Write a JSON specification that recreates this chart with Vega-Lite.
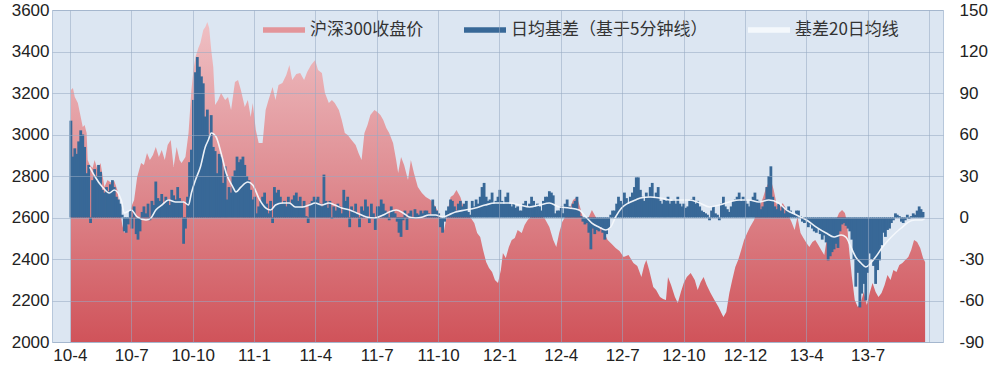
{
"$schema":"https://vega.github.io/schema/vega-lite/v6.json",
"width":891,"height":332,
"autosize":"none",
"padding":{"left":52,"top":10,"right":56,"bottom":33},
"background":"#ffffff",
"config":{"view":{"fill":"#dce6f2","stroke":"#b7c7db","strokeWidth":1},"font":"Liberation Sans"},
"datasets":{
"index":[{"m":0.05,"close":3214},{"m":0.15,"close":3224},{"m":0.24,"close":3181},{"m":0.39,"close":3152},{"m":0.48,"close":3108},{"m":0.63,"close":3036},{"m":0.72,"close":3046},{"m":0.82,"close":3007},{"m":0.87,"close":2877},{"m":0.97,"close":2853},{"m":1.11,"close":2839},{"m":1.21,"close":2877},{"m":1.35,"close":2829},{"m":1.5,"close":2863},{"m":1.69,"close":2747},{"m":1.84,"close":2781},{"m":2.03,"close":2766},{"m":2.17,"close":2776},{"m":2.32,"close":2733},{"m":2.42,"close":2660},{"m":2.56,"close":2564},{"m":2.66,"close":2525},{"m":2.8,"close":2559},{"m":2.95,"close":2612},{"m":3.04,"close":2660},{"m":3.14,"close":2684},{"m":3.29,"close":2795},{"m":3.48,"close":2863},{"m":3.62,"close":2853},{"m":3.77,"close":2911},{"m":3.91,"close":2877},{"m":4.06,"close":2901},{"m":4.2,"close":2940},{"m":4.35,"close":2892},{"m":4.49,"close":2925},{"m":4.64,"close":2877},{"m":4.78,"close":2949},{"m":4.93,"close":2973},{"m":5.07,"close":2843},{"m":5.22,"close":2940},{"m":5.36,"close":2877},{"m":5.46,"close":2863},{"m":5.65,"close":2892},{"m":5.8,"close":3007},{"m":5.94,"close":3214},{"m":6.04,"close":3311},{"m":6.14,"close":3374},{"m":6.28,"close":3417},{"m":6.38,"close":3441},{"m":6.52,"close":3504},{"m":6.62,"close":3518},{"m":6.72,"close":3542},{"m":6.81,"close":3513},{"m":6.91,"close":3407},{"m":7.01,"close":3325},{"m":7.1,"close":3142},{"m":7.25,"close":3166},{"m":7.39,"close":3200},{"m":7.59,"close":3166},{"m":7.73,"close":3181},{"m":7.88,"close":3118},{"m":8.07,"close":3253},{"m":8.22,"close":3263},{"m":8.36,"close":3214},{"m":8.55,"close":3133},{"m":8.7,"close":3166},{"m":8.84,"close":3084},{"m":8.94,"close":3152},{"m":9.09,"close":3022},{"m":9.23,"close":2959},{"m":9.42,"close":2959},{"m":9.57,"close":3118},{"m":9.71,"close":3166},{"m":9.91,"close":3229},{"m":10.05,"close":3166},{"m":10.2,"close":3239},{"m":10.39,"close":3248},{"m":10.58,"close":3287},{"m":10.73,"close":3335},{"m":10.87,"close":3263},{"m":11.07,"close":3292},{"m":11.26,"close":3296},{"m":11.45,"close":3263},{"m":11.6,"close":3301},{"m":11.79,"close":3335},{"m":11.99,"close":3359},{"m":12.13,"close":3311},{"m":12.32,"close":3296},{"m":12.47,"close":3200},{"m":12.66,"close":3152},{"m":12.81,"close":3166},{"m":12.95,"close":3152},{"m":13.15,"close":3118},{"m":13.29,"close":3070},{"m":13.44,"close":3007},{"m":13.58,"close":2998},{"m":13.77,"close":2973},{"m":13.97,"close":2949},{"m":14.11,"close":2911},{"m":14.26,"close":2877},{"m":14.4,"close":3007},{"m":14.55,"close":3046},{"m":14.69,"close":3094},{"m":14.89,"close":3118},{"m":15.03,"close":3108},{"m":15.18,"close":3094},{"m":15.32,"close":3070},{"m":15.47,"close":3031},{"m":15.61,"close":3007},{"m":15.8,"close":2959},{"m":15.95,"close":2877},{"m":16.05,"close":2815},{"m":16.19,"close":2892},{"m":16.34,"close":2853},{"m":16.53,"close":2781},{"m":16.67,"close":2877},{"m":16.82,"close":2815},{"m":17.01,"close":2747},{"m":17.21,"close":2718},{"m":17.4,"close":2699},{"m":17.64,"close":2684},{"m":17.88,"close":2651},{"m":18.12,"close":2602},{"m":18.27,"close":2525},{"m":18.46,"close":2627},{"m":18.61,"close":2699},{"m":18.75,"close":2708},{"m":18.9,"close":2733},{"m":19.09,"close":2699},{"m":19.24,"close":2651},{"m":19.43,"close":2627},{"m":19.57,"close":2602},{"m":19.77,"close":2574},{"m":19.91,"close":2525},{"m":20.06,"close":2506},{"m":20.2,"close":2443},{"m":20.35,"close":2386},{"m":20.49,"close":2357},{"m":20.64,"close":2337},{"m":20.78,"close":2299},{"m":20.93,"close":2284},{"m":21.07,"close":2347},{"m":21.17,"close":2429},{"m":21.31,"close":2405},{"m":21.46,"close":2458},{"m":21.6,"close":2492},{"m":21.75,"close":2501},{"m":21.89,"close":2540},{"m":22.09,"close":2525},{"m":22.23,"close":2564},{"m":22.38,"close":2588},{"m":22.52,"close":2602},{"m":22.72,"close":2622},{"m":22.96,"close":2612},{"m":23.2,"close":2597},{"m":23.44,"close":2554},{"m":23.63,"close":2492},{"m":23.78,"close":2458},{"m":23.92,"close":2525},{"m":24.07,"close":2578},{"m":24.21,"close":2602},{"m":24.41,"close":2636},{"m":24.6,"close":2684},{"m":24.79,"close":2699},{"m":24.94,"close":2651},{"m":25.08,"close":2597},{"m":25.23,"close":2588},{"m":25.37,"close":2602},{"m":25.52,"close":2636},{"m":25.71,"close":2602},{"m":25.91,"close":2564},{"m":26.1,"close":2530},{"m":26.29,"close":2492},{"m":26.49,"close":2472},{"m":26.68,"close":2453},{"m":26.87,"close":2439},{"m":27.07,"close":2410},{"m":27.31,"close":2419},{"m":27.55,"close":2381},{"m":27.74,"close":2366},{"m":27.94,"close":2313},{"m":28.08,"close":2371},{"m":28.18,"close":2395},{"m":28.32,"close":2347},{"m":28.52,"close":2265},{"m":28.66,"close":2251},{"m":28.85,"close":2217},{"m":29.0,"close":2207},{"m":29.14,"close":2202},{"m":29.24,"close":2313},{"m":29.39,"close":2275},{"m":29.58,"close":2217},{"m":29.72,"close":2188},{"m":29.87,"close":2241},{"m":30.01,"close":2284},{"m":30.16,"close":2313},{"m":30.35,"close":2333},{"m":30.55,"close":2299},{"m":30.69,"close":2251},{"m":30.84,"close":2289},{"m":30.98,"close":2313},{"m":31.13,"close":2275},{"m":31.32,"close":2236},{"m":31.51,"close":2202},{"m":31.71,"close":2169},{"m":31.85,"close":2140},{"m":31.95,"close":2121},{"m":32.09,"close":2145},{"m":32.24,"close":2236},{"m":32.38,"close":2299},{"m":32.53,"close":2361},{"m":32.67,"close":2395},{"m":32.82,"close":2443},{"m":32.96,"close":2492},{"m":33.11,"close":2525},{"m":33.25,"close":2554},{"m":33.45,"close":2588},{"m":33.59,"close":2636},{"m":33.74,"close":2660},{"m":33.88,"close":2694},{"m":34.03,"close":2742},{"m":34.17,"close":2771},{"m":34.27,"close":2781},{"m":34.41,"close":2733},{"m":34.56,"close":2660},{"m":34.7,"close":2646},{"m":34.85,"close":2670},{"m":34.99,"close":2646},{"m":35.14,"close":2607},{"m":35.28,"close":2578},{"m":35.43,"close":2540},{"m":35.57,"close":2602},{"m":35.72,"close":2525},{"m":35.86,"close":2501},{"m":36.01,"close":2477},{"m":36.15,"close":2458},{"m":36.3,"close":2482},{"m":36.44,"close":2492},{"m":36.59,"close":2467},{"m":36.73,"close":2443},{"m":36.88,"close":2419},{"m":37.02,"close":2506},{"m":37.17,"close":2540},{"m":37.31,"close":2530},{"m":37.46,"close":2588},{"m":37.6,"close":2622},{"m":37.75,"close":2636},{"m":37.89,"close":2622},{"m":37.99,"close":2578},{"m":38.08,"close":2458},{"m":38.23,"close":2313},{"m":38.37,"close":2202},{"m":38.52,"close":2169},{"m":38.66,"close":2188},{"m":38.81,"close":2241},{"m":38.96,"close":2178},{"m":39.1,"close":2236},{"m":39.24,"close":2284},{"m":39.39,"close":2241},{"m":39.53,"close":2217},{"m":39.68,"close":2236},{"m":39.83,"close":2275},{"m":39.97,"close":2323},{"m":40.12,"close":2299},{"m":40.26,"close":2347},{"m":40.41,"close":2337},{"m":40.55,"close":2371},{"m":40.7,"close":2381},{"m":40.84,"close":2395},{"m":40.99,"close":2410},{"m":41.13,"close":2443},{"m":41.27,"close":2492},{"m":41.42,"close":2482},{"m":41.57,"close":2453},{"m":41.71,"close":2405},{"m":41.81,"close":2386}],
"basis":[{"m":0.05,"basis":70},{"m":0.15,"basis":44},{"m":0.24,"basis":50},{"m":0.34,"basis":46},{"m":0.43,"basis":55},{"m":0.53,"basis":63},{"m":0.63,"basis":60},{"m":0.72,"basis":51},{"m":0.82,"basis":32},{"m":0.92,"basis":38},{"m":1.01,"basis":-4},{"m":1.11,"basis":27},{"m":1.21,"basis":35},{"m":1.3,"basis":30},{"m":1.4,"basis":38},{"m":1.5,"basis":33},{"m":1.59,"basis":20},{"m":1.69,"basis":18},{"m":1.79,"basis":22},{"m":1.88,"basis":19},{"m":1.98,"basis":24},{"m":2.08,"basis":27},{"m":2.17,"basis":22},{"m":2.27,"basis":15},{"m":2.37,"basis":13},{"m":2.46,"basis":10},{"m":2.56,"basis":2},{"m":2.66,"basis":-10},{"m":2.75,"basis":-11},{"m":2.85,"basis":-5},{"m":2.95,"basis":5},{"m":3.04,"basis":-8},{"m":3.14,"basis":8},{"m":3.24,"basis":-12},{"m":3.33,"basis":-16},{"m":3.43,"basis":-10},{"m":3.53,"basis":4},{"m":3.62,"basis":8},{"m":3.72,"basis":3},{"m":3.82,"basis":10},{"m":3.91,"basis":-2},{"m":4.01,"basis":12},{"m":4.11,"basis":9},{"m":4.2,"basis":26},{"m":4.3,"basis":14},{"m":4.4,"basis":12},{"m":4.49,"basis":17},{"m":4.59,"basis":10},{"m":4.69,"basis":15},{"m":4.78,"basis":13},{"m":4.88,"basis":9},{"m":4.98,"basis":20},{"m":5.07,"basis":16},{"m":5.17,"basis":13},{"m":5.27,"basis":22},{"m":5.36,"basis":14},{"m":5.46,"basis":12},{"m":5.56,"basis":-19},{"m":5.65,"basis":-8},{"m":5.75,"basis":15},{"m":5.85,"basis":40},{"m":5.94,"basis":49},{"m":6.04,"basis":85},{"m":6.14,"basis":105},{"m":6.23,"basis":116},{"m":6.33,"basis":109},{"m":6.43,"basis":102},{"m":6.52,"basis":97},{"m":6.62,"basis":73},{"m":6.72,"basis":78},{"m":6.81,"basis":60},{"m":6.91,"basis":74},{"m":7.01,"basis":51},{"m":7.1,"basis":48},{"m":7.2,"basis":32},{"m":7.3,"basis":46},{"m":7.39,"basis":44},{"m":7.49,"basis":25},{"m":7.59,"basis":37},{"m":7.68,"basis":13},{"m":7.78,"basis":22},{"m":7.88,"basis":18},{"m":7.97,"basis":30},{"m":8.07,"basis":34},{"m":8.17,"basis":44},{"m":8.26,"basis":40},{"m":8.36,"basis":42},{"m":8.46,"basis":44},{"m":8.55,"basis":38},{"m":8.65,"basis":30},{"m":8.75,"basis":27},{"m":8.84,"basis":20},{"m":8.94,"basis":13},{"m":9.04,"basis":15},{"m":9.13,"basis":3},{"m":9.23,"basis":8},{"m":9.33,"basis":12},{"m":9.42,"basis":15},{"m":9.52,"basis":18},{"m":9.62,"basis":10},{"m":9.71,"basis":3},{"m":9.81,"basis":12},{"m":9.91,"basis":-4},{"m":10.0,"basis":22},{"m":10.1,"basis":18},{"m":10.2,"basis":20},{"m":10.29,"basis":15},{"m":10.39,"basis":10},{"m":10.49,"basis":12},{"m":10.58,"basis":8},{"m":10.68,"basis":15},{"m":10.78,"basis":10},{"m":10.87,"basis":13},{"m":10.97,"basis":16},{"m":11.07,"basis":18},{"m":11.16,"basis":12},{"m":11.26,"basis":15},{"m":11.36,"basis":7},{"m":11.45,"basis":12},{"m":11.55,"basis":1},{"m":11.65,"basis":-4},{"m":11.74,"basis":10},{"m":11.84,"basis":12},{"m":11.94,"basis":15},{"m":12.03,"basis":13},{"m":12.13,"basis":15},{"m":12.23,"basis":10},{"m":12.32,"basis":8},{"m":12.42,"basis":31},{"m":12.52,"basis":12},{"m":12.61,"basis":7},{"m":12.71,"basis":12},{"m":12.81,"basis":-1},{"m":12.9,"basis":8},{"m":13.0,"basis":5},{"m":13.1,"basis":10},{"m":13.19,"basis":8},{"m":13.29,"basis":3},{"m":13.39,"basis":20},{"m":13.48,"basis":12},{"m":13.58,"basis":15},{"m":13.68,"basis":-7},{"m":13.77,"basis":8},{"m":13.87,"basis":5},{"m":13.97,"basis":10},{"m":14.06,"basis":3},{"m":14.16,"basis":-7},{"m":14.26,"basis":8},{"m":14.35,"basis":5},{"m":14.45,"basis":13},{"m":14.55,"basis":8},{"m":14.64,"basis":-4},{"m":14.74,"basis":10},{"m":14.84,"basis":3},{"m":14.93,"basis":-9},{"m":15.03,"basis":8},{"m":15.13,"basis":8},{"m":15.22,"basis":13},{"m":15.32,"basis":10},{"m":15.42,"basis":5},{"m":15.51,"basis":3},{"m":15.61,"basis":-2},{"m":15.71,"basis":8},{"m":15.8,"basis":5},{"m":15.9,"basis":3},{"m":16.0,"basis":-3},{"m":16.09,"basis":-11},{"m":16.19,"basis":-14},{"m":16.29,"basis":-2},{"m":16.38,"basis":5},{"m":16.48,"basis":-9},{"m":16.58,"basis":3},{"m":16.67,"basis":5},{"m":16.77,"basis":-1},{"m":16.87,"basis":6},{"m":16.96,"basis":3},{"m":17.06,"basis":2},{"m":17.16,"basis":5},{"m":17.25,"basis":3},{"m":17.35,"basis":5},{"m":17.45,"basis":5},{"m":17.54,"basis":3},{"m":17.64,"basis":2},{"m":17.74,"basis":13},{"m":17.83,"basis":8},{"m":17.93,"basis":5},{"m":18.03,"basis":3},{"m":18.12,"basis":-7},{"m":18.22,"basis":-11},{"m":18.32,"basis":-3},{"m":18.41,"basis":5},{"m":18.51,"basis":8},{"m":18.61,"basis":13},{"m":18.7,"basis":12},{"m":18.8,"basis":8},{"m":18.9,"basis":5},{"m":18.99,"basis":10},{"m":19.09,"basis":12},{"m":19.19,"basis":8},{"m":19.28,"basis":10},{"m":19.38,"basis":12},{"m":19.48,"basis":4},{"m":19.57,"basis":2},{"m":19.67,"basis":12},{"m":19.77,"basis":8},{"m":19.86,"basis":13},{"m":19.96,"basis":10},{"m":20.06,"basis":15},{"m":20.15,"basis":22},{"m":20.25,"basis":25},{"m":20.35,"basis":15},{"m":20.44,"basis":12},{"m":20.54,"basis":13},{"m":20.64,"basis":18},{"m":20.73,"basis":10},{"m":20.83,"basis":12},{"m":20.93,"basis":15},{"m":21.02,"basis":20},{"m":21.12,"basis":12},{"m":21.22,"basis":10},{"m":21.31,"basis":15},{"m":21.41,"basis":18},{"m":21.51,"basis":10},{"m":21.6,"basis":8},{"m":21.7,"basis":10},{"m":21.8,"basis":7},{"m":21.89,"basis":8},{"m":21.99,"basis":5},{"m":22.09,"basis":5},{"m":22.18,"basis":10},{"m":22.28,"basis":12},{"m":22.38,"basis":8},{"m":22.47,"basis":10},{"m":22.57,"basis":15},{"m":22.67,"basis":12},{"m":22.76,"basis":8},{"m":22.86,"basis":10},{"m":22.96,"basis":8},{"m":23.05,"basis":5},{"m":23.15,"basis":12},{"m":23.25,"basis":15},{"m":23.34,"basis":15},{"m":23.44,"basis":19},{"m":23.54,"basis":18},{"m":23.63,"basis":16},{"m":23.73,"basis":3},{"m":23.83,"basis":5},{"m":23.92,"basis":5},{"m":24.02,"basis":8},{"m":24.12,"basis":3},{"m":24.21,"basis":10},{"m":24.31,"basis":13},{"m":24.41,"basis":8},{"m":24.5,"basis":6},{"m":24.6,"basis":10},{"m":24.7,"basis":12},{"m":24.79,"basis":15},{"m":24.89,"basis":5},{"m":24.99,"basis":1},{"m":25.08,"basis":-3},{"m":25.18,"basis":-5},{"m":25.28,"basis":-4},{"m":25.37,"basis":-11},{"m":25.47,"basis":-23},{"m":25.57,"basis":-8},{"m":25.66,"basis":-12},{"m":25.76,"basis":-9},{"m":25.86,"basis":-10},{"m":25.95,"basis":-7},{"m":26.05,"basis":-11},{"m":26.15,"basis":-16},{"m":26.24,"basis":-12},{"m":26.34,"basis":-8},{"m":26.44,"basis":2},{"m":26.53,"basis":5},{"m":26.63,"basis":5},{"m":26.73,"basis":10},{"m":26.82,"basis":15},{"m":26.92,"basis":12},{"m":27.02,"basis":10},{"m":27.11,"basis":18},{"m":27.21,"basis":14},{"m":27.31,"basis":10},{"m":27.4,"basis":15},{"m":27.5,"basis":18},{"m":27.6,"basis":22},{"m":27.69,"basis":29},{"m":27.79,"basis":29},{"m":27.89,"basis":20},{"m":27.98,"basis":15},{"m":28.08,"basis":12},{"m":28.18,"basis":18},{"m":28.27,"basis":15},{"m":28.37,"basis":22},{"m":28.47,"basis":25},{"m":28.56,"basis":14},{"m":28.66,"basis":18},{"m":28.76,"basis":22},{"m":28.85,"basis":12},{"m":28.95,"basis":10},{"m":29.05,"basis":13},{"m":29.14,"basis":12},{"m":29.24,"basis":15},{"m":29.34,"basis":10},{"m":29.43,"basis":12},{"m":29.53,"basis":13},{"m":29.63,"basis":10},{"m":29.72,"basis":15},{"m":29.82,"basis":10},{"m":29.92,"basis":8},{"m":30.01,"basis":10},{"m":30.11,"basis":7},{"m":30.21,"basis":8},{"m":30.3,"basis":12},{"m":30.4,"basis":13},{"m":30.5,"basis":15},{"m":30.59,"basis":10},{"m":30.69,"basis":12},{"m":30.79,"basis":8},{"m":30.88,"basis":5},{"m":30.98,"basis":4},{"m":31.08,"basis":3},{"m":31.17,"basis":2},{"m":31.27,"basis":-2},{"m":31.37,"basis":5},{"m":31.46,"basis":8},{"m":31.56,"basis":3},{"m":31.66,"basis":2},{"m":31.75,"basis":-2},{"m":31.85,"basis":10},{"m":31.95,"basis":15},{"m":32.04,"basis":8},{"m":32.14,"basis":6},{"m":32.24,"basis":4},{"m":32.33,"basis":8},{"m":32.43,"basis":12},{"m":32.53,"basis":13},{"m":32.62,"basis":15},{"m":32.72,"basis":18},{"m":32.82,"basis":12},{"m":32.91,"basis":15},{"m":33.01,"basis":13},{"m":33.11,"basis":10},{"m":33.2,"basis":8},{"m":33.3,"basis":12},{"m":33.4,"basis":15},{"m":33.49,"basis":18},{"m":33.59,"basis":13},{"m":33.69,"basis":12},{"m":33.78,"basis":6},{"m":33.88,"basis":8},{"m":33.98,"basis":13},{"m":34.07,"basis":22},{"m":34.17,"basis":30},{"m":34.27,"basis":37},{"m":34.36,"basis":15},{"m":34.46,"basis":8},{"m":34.56,"basis":6},{"m":34.65,"basis":10},{"m":34.75,"basis":5},{"m":34.85,"basis":8},{"m":34.94,"basis":3},{"m":35.04,"basis":6},{"m":35.14,"basis":8},{"m":35.23,"basis":5},{"m":35.33,"basis":3},{"m":35.43,"basis":2},{"m":35.52,"basis":5},{"m":35.62,"basis":5},{"m":35.72,"basis":1},{"m":35.81,"basis":-3},{"m":35.91,"basis":-4},{"m":36.01,"basis":-2},{"m":36.1,"basis":-7},{"m":36.2,"basis":-5},{"m":36.3,"basis":-8},{"m":36.39,"basis":-10},{"m":36.49,"basis":-11},{"m":36.59,"basis":-8},{"m":36.68,"basis":-12},{"m":36.78,"basis":-16},{"m":36.88,"basis":-13},{"m":36.97,"basis":-18},{"m":37.07,"basis":-31},{"m":37.17,"basis":-28},{"m":37.26,"basis":-25},{"m":37.36,"basis":-23},{"m":37.46,"basis":-19},{"m":37.55,"basis":-22},{"m":37.65,"basis":-10},{"m":37.75,"basis":-5},{"m":37.84,"basis":-4},{"m":37.94,"basis":-6},{"m":38.04,"basis":-8},{"m":38.13,"basis":-10},{"m":38.23,"basis":-16},{"m":38.33,"basis":-30},{"m":38.42,"basis":-50},{"m":38.52,"basis":-40},{"m":38.62,"basis":-65},{"m":38.71,"basis":-55},{"m":38.81,"basis":-48},{"m":38.91,"basis":-60},{"m":39.0,"basis":-40},{"m":39.1,"basis":-26},{"m":39.2,"basis":-30},{"m":39.29,"basis":-35},{"m":39.39,"basis":-48},{"m":39.49,"basis":-38},{"m":39.58,"basis":-31},{"m":39.68,"basis":-20},{"m":39.78,"basis":-11},{"m":39.87,"basis":-14},{"m":39.97,"basis":-9},{"m":40.07,"basis":-8},{"m":40.16,"basis":-4},{"m":40.26,"basis":-2},{"m":40.36,"basis":3},{"m":40.45,"basis":2},{"m":40.55,"basis":1},{"m":40.65,"basis":-3},{"m":40.74,"basis":-4},{"m":40.84,"basis":-2},{"m":40.94,"basis":2},{"m":41.03,"basis":-1},{"m":41.13,"basis":1},{"m":41.23,"basis":3},{"m":41.32,"basis":2},{"m":41.42,"basis":5},{"m":41.52,"basis":8},{"m":41.61,"basis":6},{"m":41.71,"basis":4}],
"ma":[{"m":0.97,"ma":36.5},{"m":1.21,"ma":30},{"m":1.59,"ma":22},{"m":1.93,"ma":17.7},{"m":2.17,"ma":19.9},{"m":2.51,"ma":12.7},{"m":2.66,"ma":3.3},{"m":3.0,"ma":5.4},{"m":3.29,"ma":0.4},{"m":3.72,"ma":-1.8},{"m":3.96,"ma":-0.4},{"m":4.2,"ma":5.4},{"m":4.49,"ma":9.0},{"m":4.83,"ma":12.7},{"m":5.17,"ma":11.2},{"m":5.56,"ma":11.2},{"m":5.8,"ma":9.0},{"m":5.94,"ma":17.7},{"m":6.14,"ma":27.1},{"m":6.38,"ma":36.5},{"m":6.62,"ma":51.0},{"m":6.77,"ma":56.0},{"m":6.91,"ma":61.1},{"m":7.15,"ma":58.2},{"m":7.39,"ma":46.6},{"m":7.64,"ma":32.2},{"m":7.97,"ma":22.0},{"m":8.12,"ma":18.4},{"m":8.36,"ma":22.0},{"m":8.7,"ma":25.7},{"m":8.94,"ma":23.5},{"m":9.28,"ma":12.7},{"m":9.57,"ma":6.9},{"m":9.81,"ma":5.4},{"m":10.05,"ma":9.0},{"m":10.39,"ma":10.5},{"m":10.73,"ma":10.5},{"m":11.02,"ma":7.6},{"m":11.36,"ma":7.6},{"m":11.7,"ma":9.0},{"m":11.99,"ma":10.5},{"m":12.32,"ma":9.0},{"m":12.66,"ma":10.5},{"m":12.95,"ma":9.0},{"m":13.29,"ma":6.9},{"m":13.68,"ma":5.4},{"m":14.02,"ma":3.3},{"m":14.5,"ma":0.4},{"m":14.89,"ma":-0.4},{"m":15.32,"ma":1.8},{"m":15.61,"ma":4.0},{"m":15.95,"ma":5.4},{"m":16.29,"ma":3.3},{"m":16.58,"ma":0.4},{"m":16.92,"ma":-0.4},{"m":17.25,"ma":0.4},{"m":17.54,"ma":1.8},{"m":17.88,"ma":1.8},{"m":18.22,"ma":0.4},{"m":18.51,"ma":1.8},{"m":18.85,"ma":4.0},{"m":19.33,"ma":5.4},{"m":19.82,"ma":6.9},{"m":20.3,"ma":9.0},{"m":20.78,"ma":10.5},{"m":21.51,"ma":10.5},{"m":21.99,"ma":9.0},{"m":22.47,"ma":7.6},{"m":22.96,"ma":9.0},{"m":23.44,"ma":10.5},{"m":23.92,"ma":7.6},{"m":24.41,"ma":6.9},{"m":24.89,"ma":5.4},{"m":25.23,"ma":0.4},{"m":25.52,"ma":-4.0},{"m":25.86,"ma":-6.9},{"m":26.2,"ma":-9.0},{"m":26.44,"ma":-6.9},{"m":26.68,"ma":0.4},{"m":26.97,"ma":6.9},{"m":27.31,"ma":10.5},{"m":27.65,"ma":12.7},{"m":27.89,"ma":14.1},{"m":28.37,"ma":14.8},{"m":28.85,"ma":14.1},{"m":29.34,"ma":12.7},{"m":29.82,"ma":12.7},{"m":30.3,"ma":12.7},{"m":30.79,"ma":10.5},{"m":31.27,"ma":7.6},{"m":31.75,"ma":9.0},{"m":32.24,"ma":11.2},{"m":32.72,"ma":12.7},{"m":33.2,"ma":12.7},{"m":33.69,"ma":11.2},{"m":34.17,"ma":12.7},{"m":34.65,"ma":10.5},{"m":35.04,"ma":5.4},{"m":35.52,"ma":1.8},{"m":36.01,"ma":-1.8},{"m":36.49,"ma":-6.9},{"m":36.97,"ma":-11.2},{"m":37.36,"ma":-14.1},{"m":37.7,"ma":-12.7},{"m":37.94,"ma":-14.1},{"m":38.18,"ma":-21.3},{"m":38.42,"ma":-28.6},{"m":38.67,"ma":-32.9},{"m":38.91,"ma":-35.8},{"m":39.15,"ma":-32.9},{"m":39.39,"ma":-28.6},{"m":39.73,"ma":-21.3},{"m":40.02,"ma":-16.3},{"m":40.36,"ma":-11.2},{"m":40.7,"ma":-6.9},{"m":40.99,"ma":-3.3},{"m":41.32,"ma":-1.8},{"m":41.66,"ma":-1.8},{"m":41.81,"ma":-0.4}]
},
"layer":[
{"data":{"name":"index"},
 "mark":{"type":"area","interpolate":"linear","fill":{"gradient":"linear","x1":0,"y1":0,"x2":0,"y2":1,"stops":[{"offset":0,"color":"#efc0c4"},{"offset":0.45,"color":"#e09196"},{"offset":1,"color":"#d0535a"}]}},
 "encoding":{
  "x":{"field":"m","type":"quantitative","title":null,"scale":{"domain":[-0.63,42.44],"nice":false,"zero":false},
   "axis":{"values":[0,3,6,9,12,15,18,21,24,27,30,33,36,39,42],"labelExpr":"['10-4','10-7','10-10','11-1','11-4','11-7','11-10','12-1','12-4','12-7','12-10','12-12','13-4','13-7',''][round(datum.value/3)]","grid":true,"gridColor":"#97a9c2","gridOpacity":0.55,"domain":false,"ticks":false,"labelFontSize":17,"labelColor":"#222222","labelPadding":5,"zindex":1}},
  "y":{"field":"close","type":"quantitative","title":null,"scale":{"domain":[2000,3600],"nice":false,"zero":false},
   "axis":{"orient":"left","values":[2000,2200,2400,2600,2800,3000,3200,3400,3600],"labelExpr":"'' + datum.value","grid":true,"gridColor":"#97a9c2","gridOpacity":0.55,"domain":false,"ticks":false,"labelFontSize":17,"labelColor":"#222222","labelPadding":3,"zindex":1}},
  "y2":{"datum":2000}
 }},
{"layer":[
 {"data":{"name":"basis"},
  "mark":{"type":"bar","width":2.8},
  "encoding":{
   "x":{"field":"m","type":"quantitative","title":null},
   "y":{"field":"basis","type":"quantitative","title":null,"scale":{"domain":[-90,150],"nice":false,"zero":false},
    "axis":{"orient":"right","values":[-90,-60,-30,0,30,60,90,120,150],"labelExpr":"'' + datum.value","grid":false,"domain":false,"ticks":false,"labelFontSize":17,"labelColor":"#222222","labelPadding":16}},
   "y2":{"datum":0},
   "color":{"datum":"日均基差（基于5分钟线）","type":"nominal",
    "scale":{"domain":["沪深300收盘价","日均基差（基于5分钟线）","基差20日均线"],"range":["#e3959a","#386897","#f4f8fc"]},
    "legend":{"orient":"none","legendX":211,"legendY":-1,"direction":"horizontal","title":null,"padding":0,"symbolType":"M-1,-0.13H1V0.13H-1Z","symbolSize":1764,"symbolStrokeWidth":0,"labelFont":"Noto Sans CJK SC","labelFontSize":17,"labelColor":"#333333","labelOffset":5,"labelLimit":400,"columnPadding":40,
     "encode":{"symbols":{"update":{"fill":{"scale":"color","field":"value"},"opacity":{"value":1},"strokeWidth":{"value":0}}}}}}
  }},
 {"data":{"name":"ma"},
  "mark":{"type":"line","strokeWidth":1.6,"opacity":0.95,"interpolate":"monotone"},
  "encoding":{
   "x":{"field":"m","type":"quantitative","title":null},
   "y":{"field":"ma","type":"quantitative","title":null},
   "color":{"datum":"基差20日均线","type":"nominal"}
  }}
]}
],
"resolve":{"scale":{"y":"independent"},"axis":{"y":"independent"}}
}
